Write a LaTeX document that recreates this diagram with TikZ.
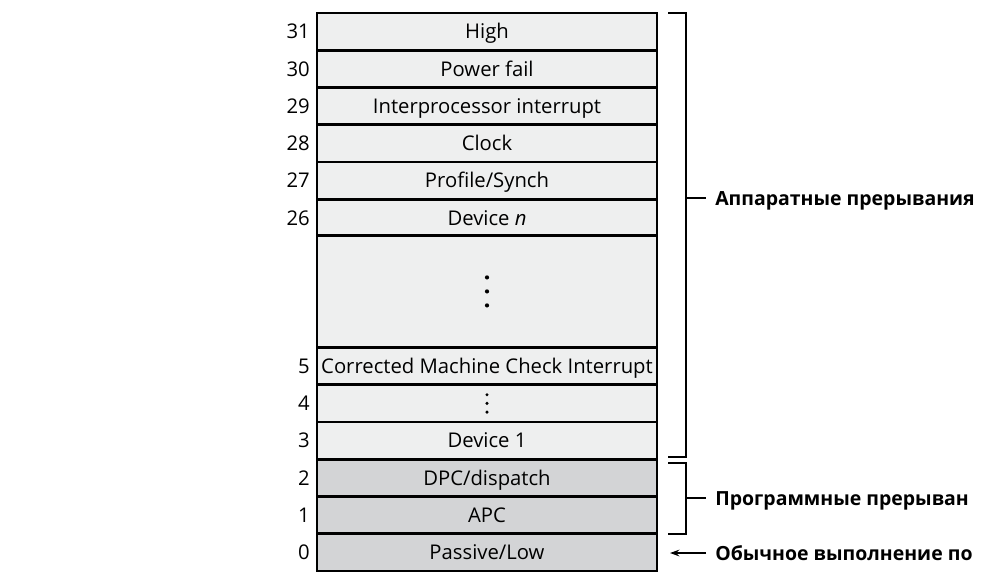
\documentclass[tikz,border=0pt]{standalone}
\usepackage{fontspec}
\setmainfont{Open Sans}
\usetikzlibrary{arrows.meta,positioning}
\definecolor{hwfill}{HTML}{EEEFEF}
\definecolor{swfill}{HTML}{D3D4D6}
\tikzset{
    irql/.style={draw, line width=2pt, minimum width=255pt, minimum height=27.94pt,
        inner sep=0pt, text height=10.8pt, text depth=0pt, font=\fontsize{15.2}{17}\selectfont},
    hwlevel/.style={irql, fill=hwfill},
    swlevel/.style={irql, fill=swfill},
    num/.style={anchor=east, inner sep=0pt, text height=10.8pt, text depth=0pt, font=\fontsize{15.2}{17}\selectfont},
    grp/.style={anchor=west, inner xsep=6.75pt, inner ysep=0pt, text height=10.8pt, text depth=0pt,
        font=\fontsize{14.6}{17}\selectfont\bfseries},
    brace/.style={line width=1.6pt},
    dot/.style={fill=black}
}
\begin{document}
\begin{tikzpicture}[x=0.75pt, y=-0.75pt]
    \useasboundingbox (0,0) rectangle (981,583);
    \node[hwlevel] (l31) at (487, 31.6) {High};
    \node[hwlevel] (l30) at (487, 68.9) {Power fail};
    \node[hwlevel] (l29) at (487, 106.1) {Interprocessor interrupt};
    \node[hwlevel] (l28) at (487, 143.4) {Clock};
    \node[hwlevel] (l27) at (487, 180.6) {Profile/Synch};
    \node[hwlevel] (l26) at (487, 217.9) {Device \textit{n}};
    \node[hwlevel, minimum height=83.8pt] (lmid) at (487, 291.4) {};
    \node[hwlevel] (l5) at (487, 366.1) {Corrected Machine Check Interrupt};
    \node[hwlevel] (l4) at (487, 403.4) {};
    \node[hwlevel] (l3) at (487, 440.6) {Device 1};
    \node[swlevel] (l2) at (487, 477.9) {DPC/dispatch};
    \node[swlevel] (l1) at (487, 515.1) {APC};
    \node[swlevel] (l0) at (487, 552.4) {Passive/Low};
    % vertical dots in the gaps
    \fill[dot] (lmid.center) circle (2.1) +(0,-14) circle (2.1) +(0,14) circle (2.1);
    \fill[dot] (l4.center) circle (1.7) +(0,-8.7) circle (1.7) +(0,8.7) circle (1.7);
    % level numbers
    \node[num] (n31) at (310, 31.6) {31};
    \node[num] (n30) at (310, 68.9) {30};
    \node[num] (n29) at (310, 106.1) {29};
    \node[num] (n28) at (310, 143.4) {28};
    \node[num] (n27) at (310, 180.6) {27};
    \node[num] (n26) at (310, 217.9) {26};
    \node[num] (n5) at (310, 366.1) {5};
    \node[num] (n4) at (310, 403.4) {4};
    \node[num] (n3) at (310, 440.6) {3};
    \node[num] (n2) at (310, 477.9) {2};
    \node[num] (n1) at (310, 515.1) {1};
    \node[num] (n0) at (310, 552.4) {0};
    % groups
    \node[grp] (hw) at (706, 198) {Аппаратные прерывания};
    \node[grp] (sw) at (706, 498) {Программные прерыван};
    \node[grp] (usual) at (706, 553) {Обычное выполнение по};
    \coordinate (hwmid) at (686, 198);
    \coordinate (swmid) at (686, 498);
    \coordinate (lowtip) at (670, 553);
    \draw[brace] (668, 13) -| (686, 457) -- (668, 457);
    \draw[brace] (668, 463) -| (686, 534) -- (668, 534);
    \draw[brace] (hwmid) -- (hw);
    \draw[brace] (swmid) -- (sw);
    \draw[brace, -{Stealth[length=7pt, width=5pt]}] (usual) -- (lowtip);
\end{tikzpicture}
\end{document}
